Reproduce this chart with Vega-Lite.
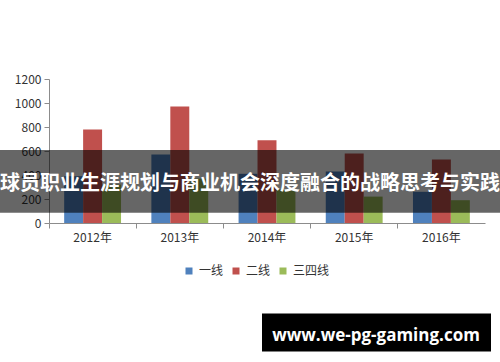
{
  "$schema": "https://vega.github.io/schema/vega-lite/v6.json",
  "autosize": {"type": "none"},
  "width": 436,
  "height": 144,
  "padding": {"left": 49, "top": 79, "right": 15, "bottom": 139},
  "background": "white",
  "config": {
    "view": {"stroke": null},
    "font": "Noto Sans CJK SC",
    "axis": {"labelFont": "Noto Sans CJK SC", "labelFontSize": 12, "labelColor": "#333333", "domainColor": "#8c8c8c", "tickColor": "#8c8c8c", "grid": false, "title": null},
    "axisY": {"labelOverlap": false},
    "axisX": {"labelOverlap": false},
    "legend": {"labelFont": "Noto Sans CJK SC", "labelFontSize": 12, "labelColor": "#333333"}
  },
  "layer": [
    {
      "data": {
        "values": [
          {"year": "2012年", "series": "一线", "value": 390},
          {"year": "2012年", "series": "二线", "value": 780},
          {"year": "2012年", "series": "三四线", "value": 320},
          {"year": "2013年", "series": "一线", "value": 570},
          {"year": "2013年", "series": "二线", "value": 970},
          {"year": "2013年", "series": "三四线", "value": 370},
          {"year": "2014年", "series": "一线", "value": 410},
          {"year": "2014年", "series": "二线", "value": 690},
          {"year": "2014年", "series": "三四线", "value": 280},
          {"year": "2015年", "series": "一线", "value": 430},
          {"year": "2015年", "series": "二线", "value": 580},
          {"year": "2015年", "series": "三四线", "value": 220},
          {"year": "2016年", "series": "一线", "value": 260},
          {"year": "2016年", "series": "二线", "value": 530},
          {"year": "2016年", "series": "三四线", "value": 190}
        ]
      },
      "mark": {"type": "bar"},
      "encoding": {
        "x": {
          "field": "year", "type": "nominal",
          "scale": {"paddingInner": 0, "paddingOuter": 0},
          "axis": {"labelAngle": 0, "bandPosition": 0, "tickSize": 5, "labelPadding": 4, "labelBaseline": "top"}
        },
        "xOffset": {
          "field": "series", "type": "nominal",
          "sort": ["一线", "二线", "三四线"],
          "scale": {"paddingInner": 0, "paddingOuter": 0.8}
        },
        "y": {
          "field": "value", "type": "quantitative",
          "scale": {"domain": [0, 1200], "nice": false},
          "axis": {"values": [0, 200, 400, 600, 800, 1000, 1200], "format": "d", "tickSize": 5, "labelPadding": 3, "labelOverlap": false}
        },
        "color": {
          "field": "series", "type": "nominal",
          "sort": ["一线", "二线", "三四线"],
          "scale": {"domain": ["一线", "二线", "三四线"], "range": ["#4F81BD", "#C0504D", "#9BBB59"]},
          "legend": {"title": null, "orient": "none", "direction": "horizontal", "legendX": 134, "legendY": 186, "symbolType": "square", "symbolSize": 49, "symbolStrokeWidth": 0, "labelOffset": 4, "columnPadding": 6}
        }
      }
    },
    {
      "data": {"values": [{}]},
      "mark": {"type": "rect", "color": "black", "opacity": 0.6},
      "encoding": {
        "x": {"value": -49},
        "x2": {"value": 451},
        "y": {"datum": 608, "type": "quantitative", "axis": {"values": [0, 200, 400, 600, 800, 1000, 1200], "format": "d", "tickSize": 5, "labelPadding": 3, "labelOverlap": false}},
        "y2": {"datum": 86}
      }
    },
    {
      "data": {"values": [{}]},
      "mark": {"type": "text", "fill": "white", "fontSize": 20, "fontWeight": "bold", "font": "Noto Sans CJK SC", "align": "center", "baseline": "middle"},
      "encoding": {
        "x": {"value": 201},
        "y": {"datum": 328, "type": "quantitative", "axis": {"values": [0, 200, 400, 600, 800, 1000, 1200], "format": "d", "tickSize": 5, "labelPadding": 3, "labelOverlap": false}},
        "text": {"value": "球员职业生涯规划与商业机会深度融合的战略思考与实践"}
      }
    },
    {
      "data": {"values": [{}]},
      "mark": {"type": "rect", "color": "black"},
      "encoding": {
        "x": {"value": 213},
        "x2": {"value": 442},
        "y": {"datum": -754, "type": "quantitative", "axis": {"values": [0, 200, 400, 600, 800, 1000, 1200], "format": "d", "tickSize": 5, "labelPadding": 3, "labelOverlap": false}},
        "y2": {"datum": -1070}
      }
    },
    {
      "data": {"values": [{}]},
      "mark": {"type": "text", "fill": "white", "fontSize": 17, "fontWeight": "bold", "font": "Open Sans", "align": "center", "baseline": "middle"},
      "encoding": {
        "x": {"value": 327},
        "y": {"datum": -945, "type": "quantitative", "axis": {"values": [0, 200, 400, 600, 800, 1000, 1200], "format": "d", "tickSize": 5, "labelPadding": 3, "labelOverlap": false}},
        "text": {"value": "www.we-pg-gaming.com"}
      }
    }
  ]
}
